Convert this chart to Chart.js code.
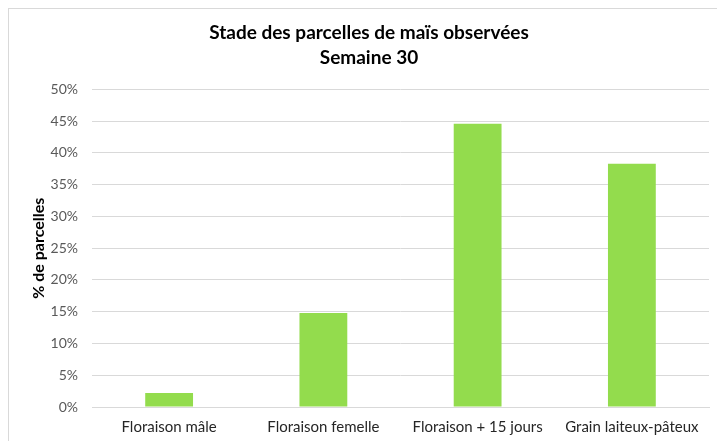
<!DOCTYPE html>
<html>
<head>
<meta charset="utf-8">
<script src="https://cdn.jsdelivr.net/npm/chart.js@4"></script>
<style>
  html, body { margin: 0; padding: 0; background: #fff; overflow: hidden; }
  #frame {
    position: absolute; left: 8px; top: 8px;
    width: 714px; height: 440px;
    border: 1px solid #d9d9d9;
    background: #fff;
  }
  #chart { display: block; }
</style>
</head>
<body>
<div id="frame">
  <canvas id="chart" width="714" height="438"></canvas>
</div>
<script>
// Stade des parcelles - semaine 30
const stades = ['Floraison mâle', 'Floraison femelle', 'Floraison + 15 jours', 'Grain laiteux-pâteux'];
const pourcentages = [2.2, 14.8, 44.6, 38.3];
const titleLines = ['Stade des parcelles de maïs observées', 'Semaine 30'];
const yLabel = '% de parcelles';

const FONT = 'Lato, "Open Sans", sans-serif';

const ctx = document.getElementById('chart').getContext('2d');

new Chart(ctx, {
  type: 'bar',
  data: {
    labels: stades,
    datasets: [{
      data: pourcentages,
      backgroundColor: '#93dc4d',
      borderWidth: 0,
      barPercentage: 0.62,
      categoryPercentage: 0.5
    }]
  },
  options: {
    responsive: false,
    animation: false,
    layout: { padding: { left: 20, right: 14, top: 0, bottom: 0 } },
    plugins: {
      legend: { display: false },
      tooltip: { enabled: false },
      title: {
        display: true,
        text: titleLines,
        color: '#000',
        font: { family: FONT, size: 19, weight: 'bold', lineHeight: 1.3 },
        padding: { top: 12, bottom: 19 }
      }
    },
    scales: {
      x: {
        grid: { display: false, drawTicks: false },
        border: { color: '#d9d9d9', width: 1 },
        ticks: {
          color: '#262626',
          font: { family: FONT, size: 15 },
          padding: 11,
          maxRotation: 0,
          autoSkip: false
        }
      },
      y: {
        min: 0,
        max: 50,
        afterFit: scale => { scale.width = 63; },
        grid: { color: '#d9d9d9', drawTicks: false },
        border: { display: false },
        ticks: {
          stepSize: 5,
          color: '#595959',
          font: { family: FONT, size: 14 },
          padding: 14,
          callback: v => v + '%'
        },
        title: {
          display: true,
          text: yLabel,
          color: '#000',
          font: { family: FONT, size: 16, weight: 'bold' },
          padding: { top: 0, bottom: 0 }
        }
      }
    }
  }
});
</script>
</body>
</html>
